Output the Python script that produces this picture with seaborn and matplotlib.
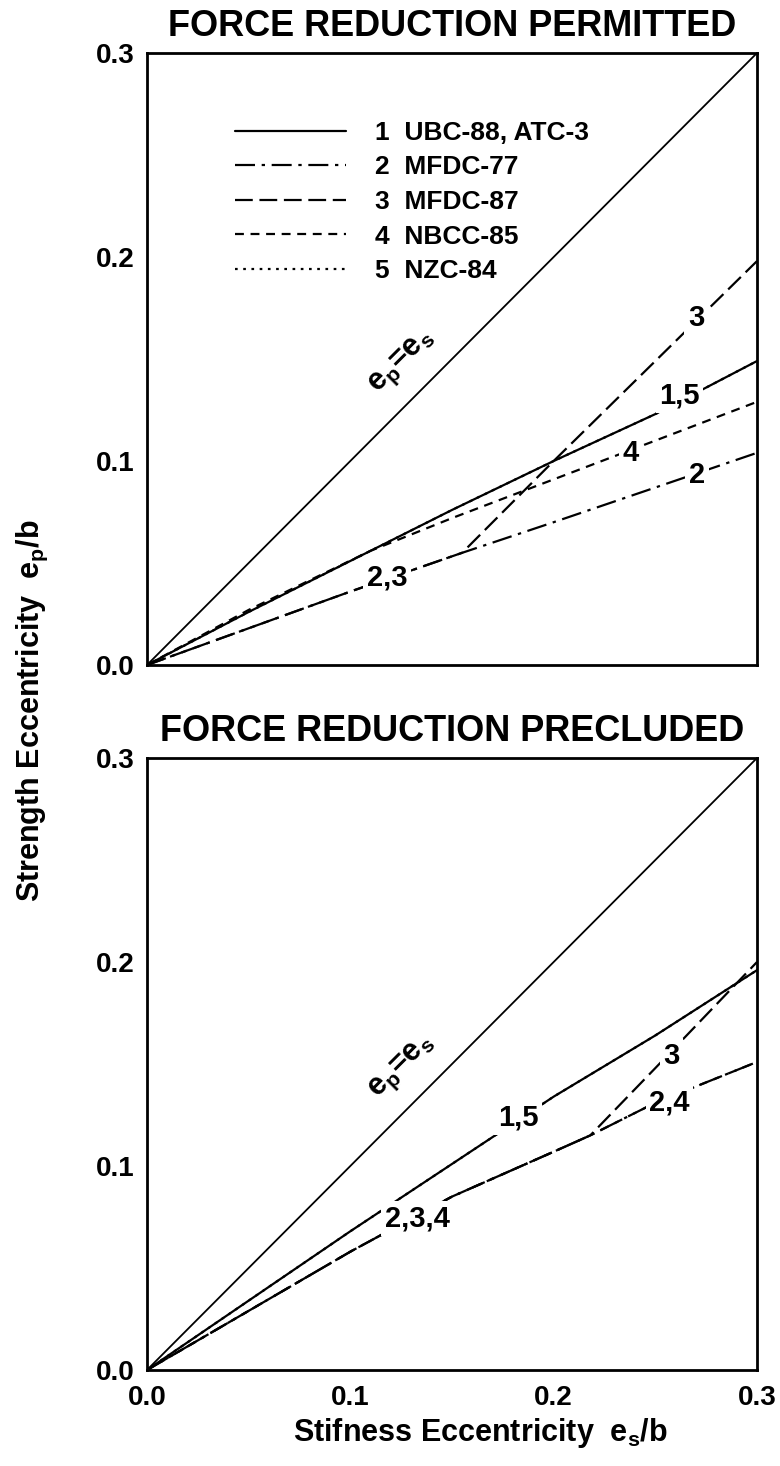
import matplotlib
matplotlib.use("Agg")
import matplotlib.pyplot as plt
import seaborn as sns

# ---- data: stiffness eccentricity e_s/b vs strength eccentricity e_p/b ----
# Force reduction permitted
perm_ubc_x = [0.0, 0.05, 0.10, 0.15, 0.20, 0.25, 0.30]
perm_ubc_y = [0.0, 0.026, 0.051, 0.076, 0.100, 0.123, 0.149]
perm_nzc_x = [0.0, 0.05, 0.10, 0.15, 0.20, 0.25, 0.30]
perm_nzc_y = [0.0, 0.026, 0.051, 0.076, 0.100, 0.123, 0.149]
perm_mfdc77_x = [0.0, 0.05, 0.10, 0.155, 0.20, 0.25, 0.30]
perm_mfdc77_y = [0.0, 0.018, 0.036, 0.055, 0.070, 0.087, 0.104]
perm_mfdc87_x = [0.0, 0.05, 0.10, 0.155, 0.20, 0.25, 0.30]
perm_mfdc87_y = [0.0, 0.018, 0.036, 0.055, 0.100, 0.149, 0.198]
perm_nbcc_x = [0.0, 0.05, 0.11, 0.15, 0.20, 0.25, 0.30]
perm_nbcc_y = [0.0, 0.027, 0.056, 0.072, 0.091, 0.110, 0.129]

# Force reduction precluded
prec_ubc_x = [0.0, 0.05, 0.10, 0.15, 0.20, 0.25, 0.30]
prec_ubc_y = [0.0, 0.034, 0.068, 0.101, 0.134, 0.164, 0.196]
prec_nzc_x = [0.0, 0.05, 0.10, 0.15, 0.20, 0.25, 0.30]
prec_nzc_y = [0.0, 0.034, 0.068, 0.101, 0.134, 0.164, 0.196]
prec_mfdc77_x = [0.0, 0.05, 0.10, 0.15, 0.20, 0.218, 0.25, 0.30]
prec_mfdc77_y = [0.0, 0.029, 0.058, 0.085, 0.107, 0.115, 0.131, 0.151]
prec_mfdc87_x = [0.0, 0.05, 0.10, 0.15, 0.20, 0.218, 0.25, 0.30]
prec_mfdc87_y = [0.0, 0.029, 0.058, 0.085, 0.107, 0.115, 0.148, 0.200]
prec_nbcc_x = [0.0, 0.05, 0.10, 0.15, 0.20, 0.218, 0.25, 0.30]
prec_nbcc_y = [0.0, 0.029, 0.058, 0.085, 0.107, 0.115, 0.131, 0.151]

equal_x = [0.0, 0.3]
equal_y = [0.0, 0.3]

code_labels = ["1  UBC-88, ATC-3", "2  MFDC-77", "3  MFDC-87", "4  NBCC-85", "5  NZC-84"]
panel_titles = ["FORCE REDUCTION PERMITTED", "FORCE REDUCTION PRECLUDED"]
ticks_major = [0.0, 0.1, 0.2, 0.3]
ticks_minor = [0.05, 0.15, 0.25]

# curve annotations: (text, x, y)
perm_notes = [("3", 0.270, 0.170), ("1,5", 0.262, 0.132), ("4", 0.238, 0.104),
              ("2", 0.2705, 0.093), ("2,3", 0.118, 0.043)]
prec_notes = [("1,5", 0.1825, 0.124), ("3", 0.258, 0.154), ("2,4", 0.257, 0.131),
              ("2,3,4", 0.133, 0.0745)]
equal_note = ("e$_p$=e$_s$", 0.1254, 0.1485)

# ---- style ----
sns.set_style("white")
plt.rcParams["font.family"] = ["Liberation Sans", "DejaVu Sans"]
plt.rcParams["font.weight"] = "bold"
plt.rcParams["text.color"] = "black"
plt.rcParams["axes.labelcolor"] = "black"
plt.rcParams["xtick.color"] = "black"
plt.rcParams["ytick.color"] = "black"
plt.rcParams["mathtext.fontset"] = "custom"
plt.rcParams["mathtext.rm"] = "Liberation Sans:bold"
plt.rcParams["mathtext.it"] = "Liberation Sans:bold"
plt.rcParams["mathtext.bf"] = "Liberation Sans:bold"
plt.rcParams["mathtext.default"] = "regular"

styles = {
    "ubc": "-",
    "mfdc77": (0, (9, 3, 1.5, 3)),
    "mfdc87": (0, (8, 3)),
    "nbcc": (0, (4, 3)),
    "nzc": (0, (1.2, 2.5)),
}

fig = plt.figure(figsize=(7.8, 14.66), dpi=100)
W, H = 780.0, 1466.0
ax_top = fig.add_axes([147 / W, (H - 665) / H, 610 / W, 612 / H])
ax_bot = fig.add_axes([147 / W, (H - 1370) / H, 610 / W, 612 / H])


def draw_panel(ax, series, notes, title, show_xlabels):
    sns.lineplot(x=equal_x, y=equal_y, ax=ax, color="black", lw=1.3, linestyle="-")
    handles = []
    for key, xs, ys in series:
        sns.lineplot(x=xs, y=ys, ax=ax, color="black", lw=1.6,
                     linestyle=styles[key])
        handles.append(ax.lines[-1])
    for txt, x, y in notes:
        ax.text(x, y, txt, ha="center", va="center", fontsize=21, fontweight="bold",
                zorder=5,
                bbox=dict(boxstyle="square,pad=0.12", fc="white", ec="none"))
    t, x, y = equal_note
    ax.text(x, y, t, ha="center", va="center", fontsize=22, fontweight="bold",
            rotation=45, rotation_mode="anchor", zorder=5)
    ax.set_xlim(0, 0.3)
    ax.set_ylim(0, 0.3)
    ax.set_xticks(ticks_major)
    ax.set_xticks(ticks_minor, minor=True)
    ax.set_yticks(ticks_major)
    ax.set_yticks(ticks_minor, minor=True)
    ax.set_yticklabels([f"{v:.1f}" for v in ticks_major])
    if show_xlabels:
        ax.set_xticklabels([f"{v:.1f}" for v in ticks_major])
    else:
        ax.set_xticklabels([])
    ax.tick_params(which="major", direction="in", length=18, width=1.5,
                   labelsize=20, pad=9, top=False, right=False)
    ax.tick_params(which="minor", direction="in", length=9.5, width=1.5,
                   top=False, right=False)
    ax.tick_params(axis="x", which="major", pad=11)
    for lab in ax.get_xticklabels() + ax.get_yticklabels():
        lab.set_fontweight("bold")
    for sp in ax.spines.values():
        sp.set_visible(True)
        sp.set_linewidth(2.0)
        sp.set_color("black")
    ax.set_xlabel("")
    ax.set_ylabel("")
    ax.set_title(title, fontsize=26, fontweight="bold", pad=12)
    return handles


perm_handles = draw_panel(
    ax_top,
    [("ubc", perm_ubc_x, perm_ubc_y), ("mfdc77", perm_mfdc77_x, perm_mfdc77_y),
     ("mfdc87", perm_mfdc87_x, perm_mfdc87_y), ("nbcc", perm_nbcc_x, perm_nbcc_y),
     ("nzc", perm_nzc_x, perm_nzc_y)],
    perm_notes, panel_titles[0], False)

draw_panel(
    ax_bot,
    [("ubc", prec_ubc_x, prec_ubc_y), ("mfdc77", prec_mfdc77_x, prec_mfdc77_y),
     ("mfdc87", prec_mfdc87_x, prec_mfdc87_y), ("nbcc", prec_nbcc_x, prec_nbcc_y),
     ("nzc", prec_nzc_x, prec_nzc_y)],
    prec_notes, panel_titles[1], True)

leg = ax_top.legend(perm_handles, code_labels, loc="upper left",
                    bbox_to_anchor=(0.144, 0.889), frameon=False,
                    fontsize=19, handlelength=4.2, handletextpad=1.1,
                    labelspacing=0.4, borderpad=0, borderaxespad=0)
for txt in leg.get_texts():
    txt.set_fontweight("bold")

fig.text(480 / W, (H - 1433) / H, "Stifness Eccentricity  e$_s$/b",
         ha="center", va="center", fontsize=22, fontweight="bold")
fig.text(32 / W, (H - 711) / H, "Strength Eccentricity  e$_p$/b",
         ha="center", va="center", rotation=90, fontsize=22, fontweight="bold")

fig.savefig("out.png", dpi=100)
